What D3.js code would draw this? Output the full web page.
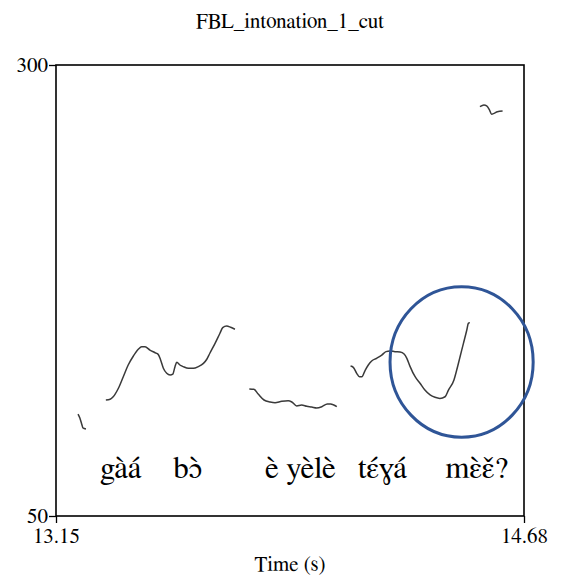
<!DOCTYPE html>
<html>
<head>
    <title>FBL_intonation_1_cut</title>
    <script src="https://d3js.org/d3.v7.min.js"></script>
    <style>
        body { margin: 0; background: #fff; }
    </style>
</head>
<body>
    <div id="chart"></div>

    <script>
        // pitch track pieces, [time (s), F0 (Hz)]
        var seg1 = [[13.222, 106.5], [13.228, 104.3], [13.235, 100.4], [13.238, 98.8], [13.248, 98.2]];
        var seg2 = [
            [13.313, 114.3], [13.327, 114.7], [13.337, 116.1], [13.354, 120.8], [13.370, 127.2],
            [13.386, 133.7], [13.403, 138.7], [13.419, 142.4], [13.430, 143.8], [13.441, 143.8],
            [13.457, 142.0], [13.474, 140.5], [13.484, 139.6], [13.492, 136.5], [13.501, 131.9],
            [13.512, 129.1], [13.523, 128.2], [13.532, 128.7], [13.539, 132.8], [13.545, 135.2],
            [13.555, 133.7], [13.566, 132.8], [13.583, 131.9], [13.599, 131.9], [13.615, 132.8],
            [13.632, 134.6], [13.643, 136.9], [13.653, 140.2], [13.670, 145.7], [13.686, 151.3],
            [13.695, 154.4], [13.708, 155.3], [13.721, 154.6], [13.735, 153.5]
        ];
        var seg3 = [
            [13.782, 120.4], [13.797, 120.2], [13.811, 117.6], [13.830, 114.3], [13.850, 113.2],
            [13.866, 112.8], [13.888, 113.6], [13.909, 113.9], [13.921, 113.2], [13.937, 111.0],
            [13.953, 111.5], [13.970, 110.8], [13.986, 110.4], [14.002, 109.9], [14.019, 110.6],
            [14.037, 112.1], [14.048, 112.1], [14.068, 110.6]
        ];
        var seg4 = [
            [14.113, 133.1], [14.122, 132.4], [14.133, 129.1], [14.142, 127.2], [14.150, 127.2],
            [14.160, 130.5], [14.171, 133.7], [14.182, 135.9], [14.198, 137.4], [14.215, 139.2],
            [14.229, 141.1], [14.242, 141.5], [14.258, 141.1], [14.275, 140.9], [14.288, 139.8],
            [14.297, 137.4], [14.307, 133.1], [14.324, 127.2], [14.340, 123.6], [14.356, 119.8],
            [14.373, 117.1], [14.389, 115.8], [14.405, 115.2], [14.422, 116.1], [14.433, 119.8],
            [14.451, 125.4], [14.460, 130.9], [14.471, 138.3], [14.482, 145.7], [14.493, 153.1],
            [14.498, 156.8], [14.503, 157.2]
        ];
        var seg5 = [
            [14.536, 276.9], [14.549, 277.8], [14.558, 277.3], [14.567, 275.1], [14.574, 272.7],
            [14.582, 273.2], [14.593, 274.1], [14.610, 274.5]
        ];
        var segments = [seg1, seg2, seg3, seg4, seg5];

        var words = ["gàá", "bɔ̀", "è yèlè", "tɛ́ɣá", "mɛ̀ɛ̌?"];
        var wordTimes = [13.362, 13.580, 13.949, 14.217, 14.526];
        var wordHz = 71;

        var timeTicks = [13.15, 14.68];
        var hzTicks = [50, 300];

        // circled region [centre time, centre Hz, half width s, half height Hz]
        var circle = [14.476, 135.4, 0.234, 41.7];

        var width = 564, height = 583;
        var margin = {top: 65, right: 40, bottom: 67, left: 56};
        var w = width - margin.left - margin.right,
            h = height - margin.top - margin.bottom;
        var font = '"FreeSerif", "Liberation Serif", monospace';

        var svg = d3.select("#chart").append("svg")
            .attr("width", width).attr("height", height);

        var g = svg.append("g")
            .attr("transform", "translate(" + margin.left + "," + margin.top + ")");

        var x = d3.scaleLinear().domain(timeTicks).range([0, w]);
        var y = d3.scaleLinear().domain(hzTicks).range([h, 0]);

        // title
        svg.append("text")
            .attr("x", margin.left + w / 2)
            .attr("y", 28)
            .attr("text-anchor", "middle")
            .style("font-family", font)
            .style("font-size", "21px")
            .text("FBL_intonation_1_cut");

        // axes
        var xAxis = g.append("g")
            .attr("transform", "translate(0," + h + ")")
            .call(d3.axisBottom(x).tickValues(timeTicks).tickSize(7).tickPadding(5)
                .tickFormat(d3.format(".2f")));
        var yAxis = g.append("g")
            .call(d3.axisLeft(y).tickValues(hzTicks).tickSize(7).tickPadding(1)
                .tickFormat(d3.format("d")));

        [xAxis, yAxis].forEach(function(a) {
            a.attr("font-family", null).attr("font-size", null);
            a.select(".domain").remove();
            a.selectAll("line").attr("stroke", "#000").attr("stroke-width", 1.3);
            a.selectAll("text").style("font-size", "21px")
                .style("font-family", font).attr("fill", "#000");
        });
        yAxis.selectAll("text").attr("dy", "0.3em");

        g.append("rect")
            .attr("width", w).attr("height", h)
            .attr("fill", "none")
            .attr("stroke", "#000")
            .attr("stroke-width", 1.6);

        svg.append("text")
            .attr("x", margin.left + w / 2)
            .attr("y", height - 12)
            .attr("text-anchor", "middle")
            .style("font-family", font)
            .style("font-size", "21px")
            .text("Time (s)");

        // pitch contour
        var line = d3.line()
            .x(function(d) { return x(d[0]); })
            .y(function(d) { return y(d[1]); })
            .curve(d3.curveMonotoneX);

        g.selectAll(".pitch")
            .data(segments)
            .enter().append("path")
            .attr("class", "pitch")
            .attr("d", line)
            .attr("fill", "none")
            .attr("stroke", "#3a3a3a")
            .attr("stroke-width", 1.5);

        // words
        g.selectAll(".word")
            .data(words)
            .enter().append("text")
            .attr("class", "word")
            .attr("x", function(d, i) { return x(wordTimes[i]); })
            .attr("y", y(wordHz))
            .attr("text-anchor", "middle")
            .style("font-family", font)
            .style("font-size", "31px")
            .text(function(d) { return d; });

        // annotation ellipse
        g.append("ellipse")
            .attr("cx", x(circle[0]))
            .attr("cy", y(circle[1]))
            .attr("rx", x(circle[0] + circle[2]) - x(circle[0]))
            .attr("ry", y(circle[1] - circle[3]) - y(circle[1]))
            .attr("fill", "none")
            .attr("stroke", "#2f5597")
            .attr("stroke-width", 3);
    </script>
</body>
</html>
